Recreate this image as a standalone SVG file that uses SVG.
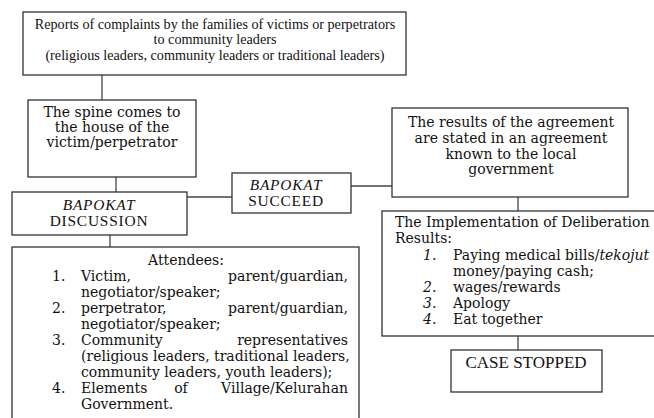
<svg xmlns="http://www.w3.org/2000/svg" width="654" height="418" viewBox="0 0 654 418">
<style>
.box{fill:#fff;stroke:#333;stroke-width:1.3}
.ln{stroke:#444;stroke-width:1.3;fill:none}
text{fill:#111;font-family:"Liberation Serif","Times New Roman",serif}
.t{font-size:14.2px}
.b{font-size:17px}
.s{font-size:15.4px;letter-spacing:0.8px}
.c{font-family:"DejaVu Serif",serif;font-size:14px}
.m{text-anchor:middle}
.e{text-anchor:end}
.i{font-style:italic}
</style>
<rect width="654" height="418" fill="#fff"/>
<g id="connectors">
<line class="ln" x1="102" y1="75" x2="102" y2="100"/>
<line class="ln" x1="116" y1="177" x2="116" y2="192"/>
<line class="ln" x1="187" y1="197" x2="232" y2="197"/>
<line class="ln" x1="351" y1="186" x2="392" y2="186"/>
<line class="ln" x1="518" y1="197" x2="518" y2="211"/>
<line class="ln" x1="110" y1="235" x2="110" y2="247"/>
<line class="ln" x1="518" y1="336" x2="518" y2="350"/>
</g>
<g id="report">
<rect class="box" x="23" y="12" width="383" height="63"/>
<text class="t m" x="215" y="29">Reports of complaints by the families of victims or perpetrators</text>
<text class="t m" x="215" y="44">to community leaders</text>
<text class="t m" x="215" y="60">(religious leaders, community leaders or traditional leaders)</text>
</g>
<g id="spine">
<rect class="box" x="28" y="100" width="168" height="77"/>
<text class="c m" x="112" y="117">The spine comes to</text>
<text class="c m" x="112" y="132">the house of the</text>
<text class="c m" x="112" y="147">victim/perpetrator</text>
</g>
<g id="discussion">
<rect class="box" x="12" y="192" width="175" height="43"/>
<text class="s m i" x="99" y="210">BAPOKAT</text>
<text class="s m" x="99" y="226">DISCUSSION</text>
</g>
<g id="succeed">
<rect class="box" x="232" y="173" width="119" height="40"/>
<text class="s m i" x="286" y="190">BAPOKAT</text>
<text class="s m" x="286" y="206">SUCCEED</text>
</g>
<g id="results">
<rect class="box" x="392" y="108" width="236" height="89"/>
<text class="c m" x="511" y="127">The results of the agreement</text>
<text class="c m" x="511" y="143">are stated in an agreement</text>
<text class="c m" x="511" y="159">known to the local</text>
<text class="c m" x="511" y="174">government</text>
</g>
<g id="implementation">
<rect class="box" x="382" y="211" width="280" height="125"/>
<text class="c" x="395" y="227">The Implementation of Deliberation</text>
<text class="c" x="395" y="243">Results:</text>
<text class="c i" x="423" y="260">1.</text>
<text class="c" x="453" y="260">Paying medical bills/<tspan class="i">tekojut</tspan></text>
<text class="c" x="453" y="276">money/paying cash;</text>
<text class="c i" x="423" y="292">2.</text>
<text class="c" x="453" y="292">wages/rewards</text>
<text class="c i" x="423" y="308">3.</text>
<text class="c" x="453" y="308">Apology</text>
<text class="c i" x="423" y="324">4.</text>
<text class="c" x="453" y="324">Eat together</text>
</g>
<g id="case-stopped">
<rect class="box" x="451" y="350" width="151" height="42"/>
<text class="b m" x="526" y="368">CASE STOPPED</text>
</g>
<g id="attendees">
<rect class="box" x="12" y="247" width="347" height="180"/>
<text class="c m" x="186" y="265">Attendees:</text>
<text class="c" x="52" y="281">1.</text>
<text class="c" x="81" y="281">Victim,</text>
<text class="c e" x="348" y="281">parent/guardian,</text>
<text class="c" x="81" y="297">negotiator/speaker;</text>
<text class="c" x="52" y="313">2.</text>
<text class="c" x="81" y="313">perpetrator,</text>
<text class="c e" x="348" y="313">parent/guardian,</text>
<text class="c" x="81" y="329">negotiator/speaker;</text>
<text class="c" x="52" y="345">3.</text>
<text class="c" x="81" y="345">Community</text>
<text class="c e" x="348" y="345">representatives</text>
<text class="c" x="81" y="361">(religious leaders, traditional leaders,</text>
<text class="c" x="81" y="377">community leaders, youth leaders);</text>
<text class="c" x="52" y="393">4.</text>
<text class="c" x="81" y="393">Elements</text>
<text class="c m" x="181" y="393">of</text>
<text class="c e" x="348" y="393">Village/Kelurahan</text>
<text class="c" x="81" y="409">Government.</text>
</g>
</svg>
